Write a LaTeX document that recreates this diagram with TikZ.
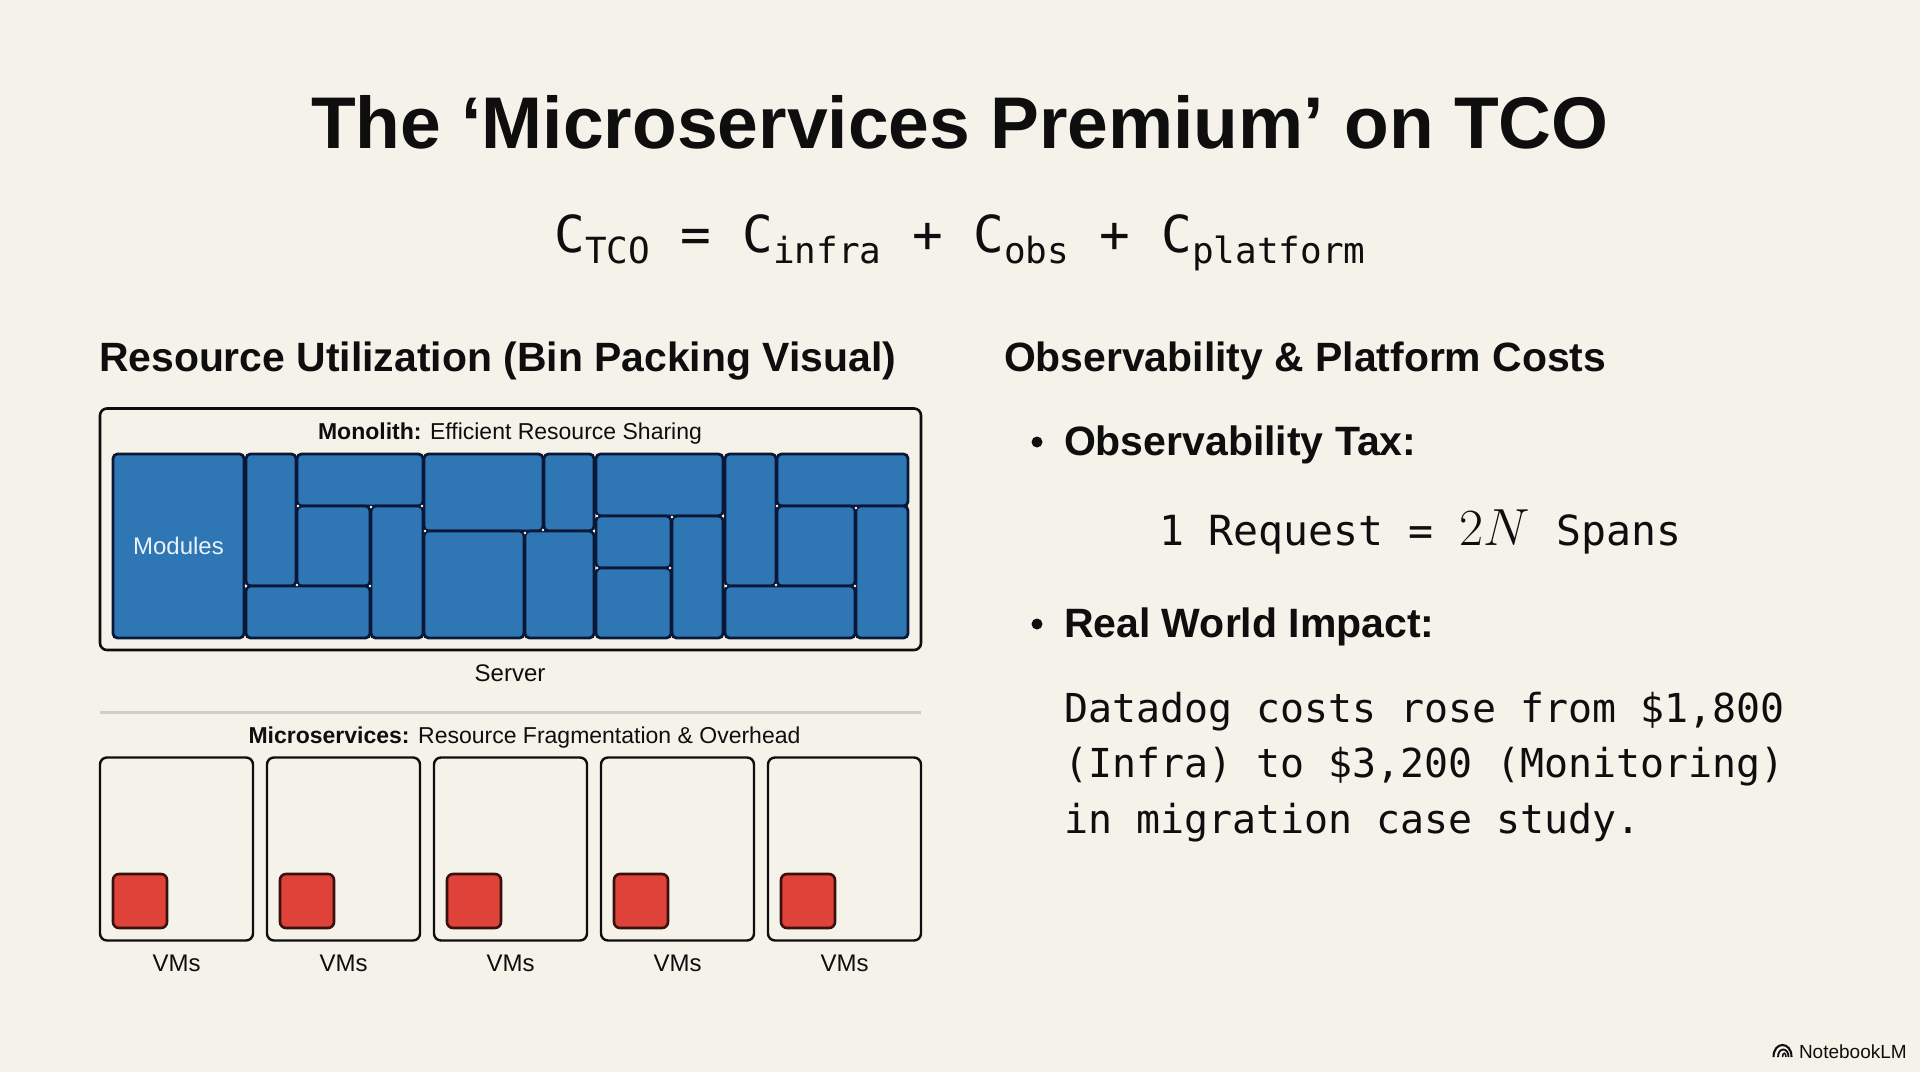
\documentclass[tikz,border=0pt]{standalone}
\usepackage[no-math]{fontspec}
\usepackage{graphicx}
\setmainfont{Liberation Sans}
\newfontfamily\codefont{DejaVu Sans Mono}
\definecolor{paper}{HTML}{F5F2EA}
\definecolor{ink}{HTML}{0E0E0E}
\definecolor{navy}{HTML}{0A1836}
\definecolor{modblue}{HTML}{2F76B5}
\definecolor{vmred}{HTML}{DF4238}
\definecolor{rulegray}{HTML}{CFCEC7}
\tikzset{
  txt/.style={inner sep=0pt,outer sep=0pt,text=ink},
  titletxt/.style={txt,anchor=base,font=\fontsize{73.2}{80}\selectfont\bfseries},
  headtxt/.style={txt,anchor=base west,font=\fontsize{40.9}{48}\selectfont\bfseries},
  bullettxt/.style={txt,anchor=base west,font=\fontsize{41}{48}\selectfont\bfseries},
  codetxt/.style={txt,anchor=base west,font=\fontsize{39.9}{46}\selectfont\codefont},
  reqtxt/.style={txt,anchor=base west,font=\fontsize{41.5}{46}\selectfont\codefont},
  smalltxt/.style={txt,anchor=base,font=\fontsize{23}{28}\selectfont},
  labeltxt/.style={txt,anchor=base,font=\fontsize{24}{28}\selectfont},
  bulletdot/.style={circle,fill=ink,minimum size=11pt,inner sep=0pt,outer sep=0pt},
  outerbox/.style={draw=ink,line width=2.6pt,rounded corners=7pt},
  vmbox/.style={draw=ink,line width=2.4pt,rounded corners=7pt},
  blockbox/.style={draw=navy,fill=modblue,line width=2.8pt,rounded corners=4.5pt},
  redbox/.style={draw=black!75!vmred,fill=vmred,line width=2.6pt,rounded corners=6pt},
  junction/.style={fill=white,draw=none},
}
\newcommand{\blockat}[4]{\draw[blockbox] (#1,#2) rectangle (#3,#4);}
\newcommand{\lowsub}[1]{\raisebox{-11pt}{\fontsize{36}{40}\selectfont #1}}
\begin{document}
\begin{tikzpicture}[x=1pt,y=-1pt]
\useasboundingbox (0,0) rectangle (1920,1072);
\fill[paper] (0,0) rectangle (1920,1072);

\node[titletxt] (title) at (960,148) {The ‘Microservices Premium’ on TCO};
\node[txt,anchor=base,font=\fontsize{51}{60}\selectfont\codefont] (formula) at (960,252)
  {C\lowsub{TCO} = C\lowsub{infra} + C\lowsub{obs} + C\lowsub{platform}};

\node[headtxt] (lefthead) at (99,371) {Resource Utilization (Bin Packing Visual)};
\node[headtxt] (righthead) at (1004,371) {Observability \& Platform Costs};

% Monolith
\draw[outerbox] (100,408.5) rectangle (921,650);
\node[smalltxt] (monolabel) at (510,439.5) {\textbf{Monolith:} Efficient Resource Sharing};
\blockat{113}{454}{244}{638}
\blockat{246}{454}{296}{586}
\blockat{297}{454}{423}{506}
\blockat{297}{506}{370}{586}
\blockat{246}{586}{370}{638}
\blockat{371}{506}{423}{638}
\blockat{424}{454}{543}{531}
\blockat{424}{531}{524}{638}
\blockat{544}{454}{594}{531}
\blockat{525}{531}{594}{638}
\blockat{596}{454}{723}{516}
\blockat{596}{516}{671}{568}
\blockat{596}{568}{671}{638}
\blockat{672}{516}{723}{638}
\blockat{725}{454}{776}{586}
\blockat{777}{454}{908}{506}
\blockat{777}{506}{855}{586}
\blockat{725}{586}{855}{638}
\blockat{856}{506}{908}{638}
\foreach \p in {(298,506),(371,507),(422,506),(246,586),(297,585),(370,586),(425,531),(525,533),(543,530),(594,531),(597,516),(672,517),(723,516),(597,568),(670,568),(726,586),(776,585),(855,586),(777,506),(856,508)}
  \fill[junction] \p circle (1.4pt);
\node[txt,font=\fontsize{24}{28}\selectfont,text=white!90!modblue] (modules) at (178.5,546) {Modules};
\node[labeltxt] (server) at (510,681) {Server};

\draw[rulegray,line width=2.4pt] (100,712.5) -- (921,712.5);

% Microservices
\node[smalltxt] (microlabel) at (524.5,743) {\textbf{Microservices:} Resource Fragmentation \& Overhead};
\foreach \i/\x in {1/100,2/267,3/434,4/601,5/768}{
  \draw[vmbox] (\x,757.5) rectangle ({\x+153},940.5);
  \draw[redbox] ({\x+13},874) rectangle ({\x+67},928);
  \node[labeltxt] (vm\i) at ({\x+76.5},971) {VMs};
}

% Right column
\node[bulletdot] (b1) at (1037,442) {};
\node[bullettxt] (obs) at (1064,455.5) {Observability Tax:};
\node[reqtxt] (request) at (1159,545) {1 Request =\hspace{26pt}\scalebox{2.1}{$2N$}\hspace{26pt}Spans};
\node[bulletdot] (b2) at (1037,624) {};
\node[bullettxt] (rw) at (1064,637.5) {Real World Impact:};
\node[codetxt] (l1) at (1064,722) {Datadog costs rose from \$1,800};
\node[codetxt] (l2) at (1064,777) {(Infra) to \$3,200 (Monitoring)};
\node[codetxt] (l3) at (1064,833) {in migration case study.};

% Footer
\node[txt,anchor=base west,font=\fontsize{19}{22}\selectfont] (nlm) at (1799,1058) {NotebookLM};
\draw[ink,line width=2.1pt] (1773.5,1057) .. controls (1773.5,1041) and (1791.5,1041) .. (1791.5,1057);
\draw[ink,line width=1.8pt] (1778,1057) .. controls (1778,1047) and (1788.5,1047) .. (1788.5,1057);
\draw[ink,line width=1.5pt] (1782.5,1057) .. controls (1782.5,1052) and (1786,1052) .. (1786,1057);
\end{tikzpicture}
\end{document}
